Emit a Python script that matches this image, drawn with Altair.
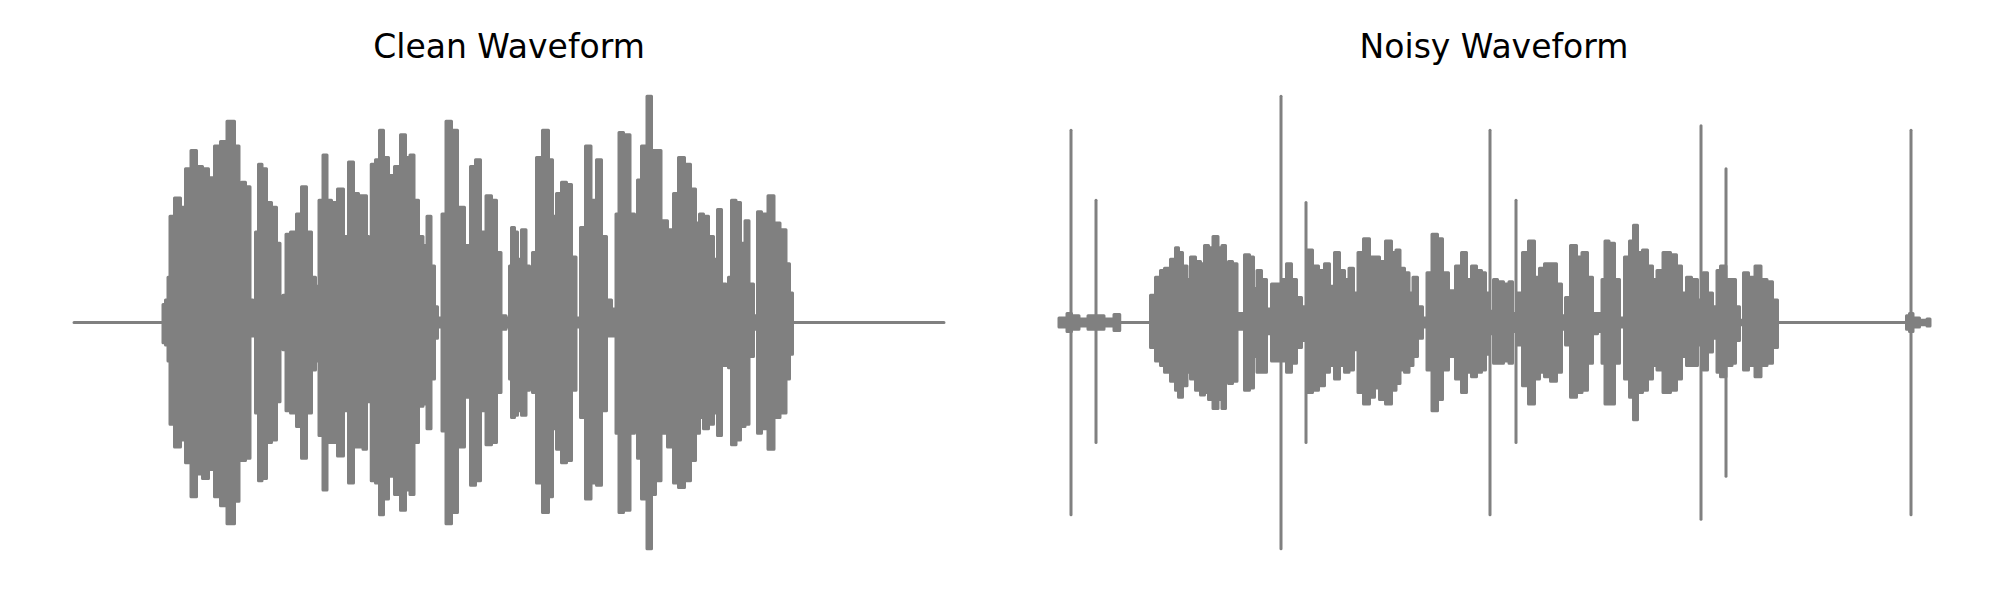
import altair as alt
import pandas as pd

# ---- Clean waveform envelope (time in s, upper / lower amplitude) ----
clean_t = [0.00, 0.88, 0.90, 0.93, 0.95, 0.97, 1.04, 1.09, 1.14, 1.20, 1.25, 1.32, 1.37, 1.44, 1.49, 1.57,
           1.64, 1.66, 1.69, 1.74, 1.78, 1.80, 1.83, 1.86, 1.90, 1.95, 2.00, 2.05, 2.07, 2.11, 2.13, 2.20,
           2.25, 2.30, 2.35, 2.40, 2.43, 2.47, 2.51, 2.55, 2.60, 2.67, 2.72, 2.77, 2.82, 2.87, 2.91, 2.94,
           2.955, 2.99, 3.04, 3.07, 3.12, 3.17, 3.24, 3.29, 3.34, 3.38, 3.42, 3.47, 3.51, 3.55, 3.59, 3.62,
           3.65, 3.67, 3.69, 3.75, 3.80, 3.87, 3.94, 3.99, 4.04, 4.09, 4.15, 4.20, 4.25, 4.29, 4.35, 4.36,
           4.39, 4.42, 4.45, 4.50, 4.54, 4.57, 4.60, 4.65, 4.72, 4.77, 4.80, 4.85, 4.90, 4.95, 5.00, 5.04,
           5.09, 5.14, 5.20, 5.25, 5.30, 5.35, 5.40, 5.44, 5.46, 5.53, 5.59, 5.62, 5.65, 5.70, 5.76, 5.79,
           5.84, 5.90, 5.97, 6.02, 6.07, 6.14, 6.19, 6.24, 6.27, 6.32, 6.37, 6.42, 6.45, 6.50, 6.54, 6.55,
           6.60, 6.64, 6.69, 6.73, 6.77, 6.82, 6.85, 6.90, 6.98, 7.02, 7.10, 7.14, 7.17, 7.20, 8.70]
clean_top = [0, 0, 0.08, 0.10, 0.20, 0.47, 0.55, 0.51, 0.68, 0.76, 0.69, 0.68, 0.64, 0.78, 0.80, 0.89,
             0.78, 0.20, 0.62, 0.60, 0.10, 0.05, 0.40, 0.70, 0.68, 0.53, 0.51, 0.35, 0.11, 0.12, 0.39, 0.40,
             0.48, 0.60, 0.40, 0.20, 0.16, 0.54, 0.74, 0.54, 0.53, 0.59, 0.38, 0.71, 0.57, 0.56, 0.56, 0.38,
             0.22, 0.70, 0.72, 0.85, 0.73, 0.65, 0.69, 0.83, 0.73, 0.74, 0.54, 0.38, 0.34, 0.47, 0.25, 0.07,
             0.02, 0.02, 0.48, 0.89, 0.85, 0.51, 0.34, 0.69, 0.72, 0.40, 0.56, 0.54, 0.31, 0.03, 0.02, 0.25,
             0.42, 0.40, 0.28, 0.41, 0.25, 0.02, 0.31, 0.73, 0.85, 0.72, 0.47, 0.57, 0.62, 0.61, 0.29, 0.02,
             0.42, 0.78, 0.54, 0.72, 0.38, 0.10, 0.06, 0.48, 0.84, 0.83, 0.48, 0.02, 0.63, 0.78, 1.00, 0.76,
             0.76, 0.45, 0.41, 0.57, 0.73, 0.70, 0.59, 0.44, 0.48, 0.47, 0.38, 0.28, 0.50, 0.17, 0.02, 0.20,
             0.54, 0.53, 0.35, 0.45, 0.17, 0.03, 0.49, 0.48, 0.56, 0.44, 0.41, 0.26, 0.13, 0, 0]
clean_bot = [0, 0, -0.09, -0.10, -0.17, -0.45, -0.55, -0.52, -0.62, -0.77, -0.67, -0.69, -0.65, -0.77, -0.81, -0.89,
             -0.79, -0.20, -0.61, -0.60, -0.06, -0.05, -0.40, -0.70, -0.69, -0.53, -0.52, -0.35, -0.11, -0.12, -0.39, -0.40,
             -0.46, -0.60, -0.40, -0.21, -0.17, -0.50, -0.74, -0.53, -0.53, -0.59, -0.39, -0.71, -0.55, -0.55, -0.56, -0.35,
             -0.22, -0.70, -0.71, -0.85, -0.78, -0.68, -0.76, -0.83, -0.74, -0.76, -0.53, -0.37, -0.36, -0.47, -0.25, -0.07,
             -0.02, -0.02, -0.48, -0.89, -0.84, -0.55, -0.33, -0.72, -0.70, -0.39, -0.54, -0.53, -0.31, -0.03, -0.02, -0.25,
             -0.42, -0.41, -0.39, -0.41, -0.30, -0.02, -0.31, -0.71, -0.84, -0.77, -0.47, -0.56, -0.62, -0.61, -0.30, -0.02,
             -0.42, -0.78, -0.71, -0.72, -0.39, -0.06, -0.06, -0.49, -0.84, -0.83, -0.49, -0.02, -0.60, -0.78, -1.00, -0.76,
             -0.70, -0.49, -0.55, -0.71, -0.73, -0.70, -0.61, -0.49, -0.42, -0.47, -0.45, -0.40, -0.50, -0.19, -0.02, -0.20,
             -0.54, -0.52, -0.46, -0.45, -0.15, -0.03, -0.49, -0.47, -0.56, -0.42, -0.40, -0.25, -0.14, 0, 0]

# ---- Noisy waveform envelope ----
noisy_t = [0.00, 0.06, 0.10, 0.15, 0.25, 0.33, 0.40, 0.50, 0.60, 0.615, 0.90, 0.93, 1.00, 1.03, 1.08, 1.15,
           1.18, 1.21, 1.26, 1.30, 1.33, 1.40, 1.43, 1.48, 1.51, 1.57, 1.61, 1.65, 1.68, 1.71, 1.76, 1.80,
           1.83, 1.88, 1.93, 1.96, 2.00, 2.05, 2.10, 2.15, 2.20, 2.25, 2.30, 2.35, 2.40, 2.45, 2.51, 2.56,
           2.63, 2.68, 2.73, 2.78, 2.83, 2.88, 2.92, 2.97, 3.01, 3.08, 3.13, 3.18, 3.23, 3.30, 3.35, 3.39,
           3.43, 3.48, 3.52, 3.56, 3.61, 3.66, 3.70, 3.76, 3.81, 3.86, 3.93, 4.00, 4.05, 4.10, 4.15, 4.20,
           4.25, 4.28, 4.33, 4.36, 4.41, 4.48, 4.52, 4.55, 4.61, 4.66, 4.73, 4.78, 4.83, 4.88, 4.95, 5.00,
           5.05, 5.08, 5.15, 5.20, 5.26, 5.31, 5.36, 5.41, 5.45, 5.47, 5.53, 5.58, 5.63, 5.68, 5.73, 5.76,
           5.81, 5.86, 5.91, 5.96, 6.00, 6.08, 6.15, 6.20, 6.25, 6.30, 6.35, 6.42, 6.46, 6.51, 6.56, 6.60,
           6.63, 6.71, 6.75, 6.78, 6.83, 6.86, 6.93, 6.99, 7.05, 7.11, 7.16, 7.21, 8.46, 8.49, 8.52, 8.56,
           8.65, 8.71]
noisy_top = [0.02, 0.02, 0.04, 0.03, 0.015, 0.03, 0.03, 0.015, 0.035, 0, 0, 0.12, 0.20, 0.23, 0.24, 0.28,
             0.33, 0.31, 0.25, 0.19, 0.29, 0.27, 0.26, 0.34, 0.33, 0.38, 0.33, 0.34, 0.06, 0.27, 0.26, 0.04,
             0.04, 0.30, 0.29, 0.15, 0.23, 0.19, 0.06, 0.17, 0.17, 0.19, 0.26, 0.19, 0.11, 0.07, 0.32, 0.25,
             0.23, 0.26, 0.16, 0.31, 0.23, 0.19, 0.24, 0.13, 0.31, 0.37, 0.29, 0.29, 0.27, 0.36, 0.31, 0.32,
             0.24, 0.22, 0.13, 0.20, 0.07, 0.02, 0.22, 0.39, 0.37, 0.22, 0.14, 0.25, 0.31, 0.19, 0.25, 0.23,
             0.22, 0.13, 0.05, 0.19, 0.18, 0.17, 0.18, 0.04, 0.13, 0.31, 0.36, 0.20, 0.24, 0.26, 0.26, 0.17,
             0.03, 0.11, 0.34, 0.29, 0.31, 0.20, 0.04, 0.04, 0.19, 0.36, 0.35, 0.19, 0.02, 0.29, 0.36, 0.43,
             0.31, 0.32, 0.25, 0.19, 0.23, 0.31, 0.30, 0.25, 0.13, 0.20, 0.19, 0.10, 0.22, 0.13, 0.07, 0.23,
             0.25, 0.19, 0.19, 0.07, 0.01, 0.22, 0.20, 0.25, 0.19, 0.18, 0.10, 0, 0, 0.03, 0.04, 0.02,
             0.01, 0.015]
noisy_bot = [-0.02, -0.02, -0.04, -0.03, -0.015, -0.03, -0.03, -0.015, -0.035, 0, 0, -0.11, -0.17, -0.19, -0.22, -0.26,
             -0.30, -0.33, -0.28, -0.22, -0.25, -0.30, -0.32, -0.31, -0.34, -0.38, -0.34, -0.38, -0.05, -0.27, -0.26, -0.03,
             -0.03, -0.30, -0.29, -0.15, -0.22, -0.22, -0.05, -0.17, -0.17, -0.17, -0.22, -0.18, -0.11, -0.08, -0.31, -0.30,
             -0.28, -0.22, -0.19, -0.25, -0.19, -0.22, -0.21, -0.12, -0.31, -0.36, -0.33, -0.29, -0.34, -0.36, -0.30, -0.27,
             -0.21, -0.22, -0.19, -0.15, -0.07, -0.02, -0.21, -0.39, -0.34, -0.21, -0.15, -0.25, -0.31, -0.22, -0.24, -0.22,
             -0.21, -0.14, -0.05, -0.18, -0.18, -0.17, -0.18, -0.04, -0.10, -0.28, -0.36, -0.25, -0.22, -0.24, -0.26, -0.22,
             -0.03, -0.10, -0.33, -0.31, -0.30, -0.18, -0.05, -0.04, -0.18, -0.36, -0.36, -0.18, -0.02, -0.25, -0.33, -0.43,
             -0.31, -0.30, -0.25, -0.19, -0.21, -0.31, -0.30, -0.25, -0.15, -0.19, -0.19, -0.10, -0.21, -0.13, -0.07, -0.22,
             -0.24, -0.19, -0.18, -0.08, -0.01, -0.21, -0.19, -0.24, -0.19, -0.18, -0.11, 0, 0, -0.03, -0.04, -0.02,
             -0.01, -0.015]

# ---- Impulsive noise spikes in the noisy waveform ----
spike_t = [0.12, 0.37, 2.22, 2.47, 4.31, 4.57, 6.42, 6.67, 8.52]
spike_top = [0.85, 0.54, 1.00, 0.53, 0.85, 0.54, 0.87, 0.68, 0.85]
spike_bot = [-0.85, -0.53, -1.00, -0.53, -0.85, -0.53, -0.87, -0.68, -0.85]

GRAY = "#808080"
X_SCALE = alt.Scale(domain=[0, 8.70], nice=False, zero=False)
Y_SCALE = alt.Scale(domain=[-1.05, 1.05], nice=False, zero=False)


def title(text):
    return alt.TitleParams(text=text, fontSize=33, font="DejaVu Sans", fontWeight="normal",
                           color="black", anchor="middle", baseline="alphabetic", offset=-6)


def envelope(t, top, bot):
    df = pd.DataFrame({"t": t, "top": top, "bot": bot})
    return alt.Chart(df).mark_area(fill=GRAY, stroke=GRAY, strokeWidth=3, strokeJoin="round",
                                   strokeCap="round", fillOpacity=1, clip=False,
                                   interpolate="step").encode(
        x=alt.X("t:Q", axis=None, scale=X_SCALE),
        y=alt.Y("top:Q", axis=None, scale=Y_SCALE),
        y2="bot:Q",
    )


clean = envelope(clean_t, clean_top, clean_bot).properties(
    width=870, height=475, title=title("Clean Waveform"))

spikes_df = pd.DataFrame({"t": spike_t, "top": spike_top, "bot": spike_bot})
spikes = alt.Chart(spikes_df).mark_rule(color=GRAY, strokeWidth=3, strokeCap="round").encode(
    x=alt.X("t:Q", axis=None, scale=X_SCALE),
    y=alt.Y("top:Q", axis=None, scale=Y_SCALE),
    y2="bot:Q",
)
noisy = alt.layer(envelope(noisy_t, noisy_top, noisy_bot), spikes).properties(
    width=870, height=475, title=title("Noisy Waveform"))

chart = alt.hconcat(clean, noisy, spacing=111).properties(
    padding={"left": 64, "top": 24, "right": 5, "bottom": 5},
    background="white",
).configure_view(strokeWidth=0)

chart.save("out.html", embed_options={"renderer": "svg", "actions": False})
